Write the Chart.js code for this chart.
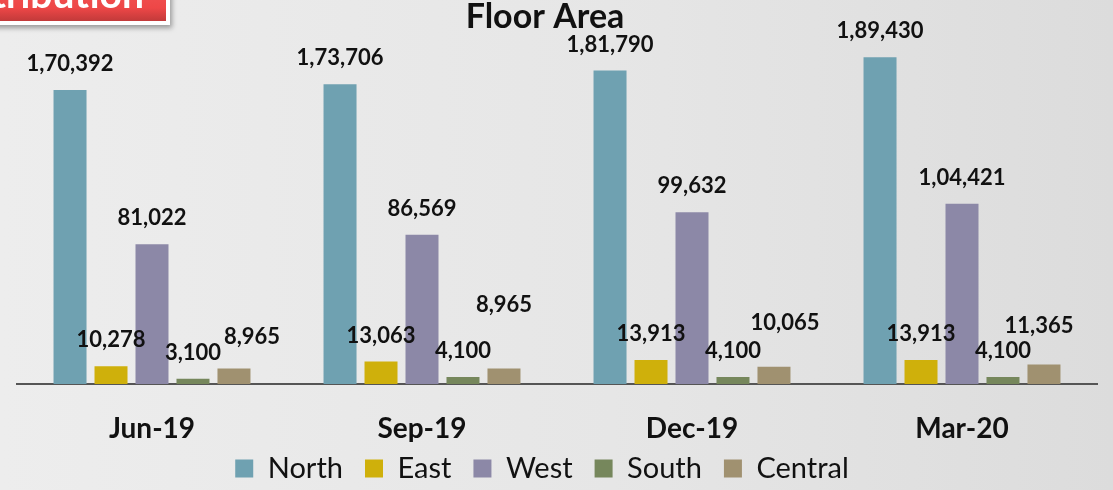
<!DOCTYPE html>
<html>
<head>
<meta charset="utf-8">
<title>Floor Area</title>
<script src="https://cdn.jsdelivr.net/npm/chart.js@4.4.1/dist/chart.umd.min.js"></script>
<style>
  html, body { margin: 0; padding: 0; }
  body {
    width: 1113px; height: 490px; overflow: hidden; position: relative;
    background: linear-gradient(90deg, #ededed 0%, #e6e6e6 55%, #dcdcdc 100%);
    font-family: Lato, "Noto Sans", sans-serif;
  }
  #wrap { position: absolute; left: 0; top: 0; width: 1113px; height: 490px; }
  #tag {
    position: absolute; left: -20px; top: -30px;
    width: 182px; height: 47px;
    background: linear-gradient(180deg, #f25a5a 0%, #ee4747 72%, #c23a3a 100%);
    border: 4px solid #ffffff;
    box-shadow: 2px 3px 5px rgba(0, 0, 0, 0.35);
    overflow: hidden;
  }
  #tag span {
    position: absolute; right: 22px; bottom: 8px;
    color: #ffffff; font: bold 39px/39px Lato, sans-serif; white-space: nowrap;
  }
</style>
</head>
<body>
<div id="wrap"><canvas id="chart" width="1113" height="490"></canvas></div>
<div id="tag"><span>Distribution</span></div>
<script>
// Quarterly floor area by zone
const categories = ['Jun-19', 'Sep-19', 'Dec-19', 'Mar-20'];
const north   = [170392, 173706, 181790, 189430];
const east    = [10278, 13063, 13913, 13913];
const west    = [81022, 86569, 99632, 104421];
const south   = [3100, 4100, 4100, 4100];
const central = [8965, 8965, 10065, 11365];

const zoneColors = {
  North: '#6fa1b1',
  East: '#cfb00b',
  West: '#8c88a7',
  South: '#76875c',
  Central: '#a09170'
};

// Indian digit grouping: 1,70,392
function formatIndian(n) {
  const s = String(Math.round(n));
  if (s.length <= 3) return s;
  const last3 = s.slice(-3);
  let rest = s.slice(0, -3);
  const parts = [];
  while (rest.length > 2) { parts.unshift(rest.slice(-2)); rest = rest.slice(0, -2); }
  if (rest.length) parts.unshift(rest);
  return parts.join(',') + ',' + last3;
}

// Chart heading, drawn slightly left of the plot centre
const heading = {
  id: 'heading',
  afterDraw(chart, args, opts) {
    const ctx = chart.ctx;
    ctx.save();
    ctx.font = `bold ${opts.size}px ${opts.family}`;
    ctx.fillStyle = opts.color;
    ctx.textAlign = 'center';
    ctx.textBaseline = 'middle';
    ctx.fillText(opts.text, opts.x, opts.y);
    ctx.restore();
  }
};

// Nudges the legend box after layout so it can sit closer to the axis labels
const legendShift = {
  id: 'legendShift',
  afterLayout(chart, args, opts) {
    const lg = chart.legend;
    if (!lg) return;
    lg.left += opts.dx; lg.right += opts.dx;
    lg.top += opts.dy; lg.bottom += opts.dy;
  }
};

// Draws each bar's value above it
const valueLabels = {
  id: 'valueLabels',
  afterDatasetsDraw(chart, args, opts) {
    const ctx = chart.ctx;
    ctx.save();
    ctx.font = `bold ${opts.size}px ${opts.family}`;
    ctx.fillStyle = opts.color;
    ctx.textAlign = 'center';
    ctx.textBaseline = 'middle';
    chart.data.datasets.forEach((ds, i) => {
      const meta = chart.getDatasetMeta(i);
      const nudge = opts.nudge[ds.label] || { dx: [], dy: [] };
      meta.data.forEach((bar, j) => {
        const x = bar.x + (nudge.dx[j] || 0);
        const y = bar.y - opts.offset + (nudge.dy[j] || 0);
        ctx.fillText(formatIndian(ds.data[j]), x, y);
      });
    });
    ctx.restore();
  }
};

const series = [
  ['North', north], ['East', east], ['West', west], ['South', south], ['Central', central]
];

new Chart(document.getElementById('chart'), {
  type: 'bar',
  data: {
    labels: categories,
    datasets: series.map(([name, values]) => ({
      label: name,
      data: values,
      backgroundColor: zoneColors[name],
      borderWidth: 0,
      categoryPercentage: 0.759,
      barPercentage: 0.805
    }))
  },
  options: {
    responsive: false,
    animation: false,
    layout: { padding: { left: 17, right: 16, top: 39, bottom: 0 } },
    scales: {
      x: {
        grid: { display: false, drawTicks: false },
        border: { display: true, color: '#555555', width: 2 },
        ticks: {
          color: '#111111',
          padding: 28,
          font: { family: 'Lato', size: 28, weight: 'bold' }
        },
        afterFit(scale) { scale.height = 58; }
      },
      y: {
        display: false,
        min: 0,
        max: 200000
      }
    },
    plugins: {
      title: { display: false },
      legend: {
        position: 'bottom',
        maxHeight: 48,
        labels: {
          color: '#111111',
          boxWidth: 18,
          boxHeight: 18,
          padding: 22,
          font: { family: 'Lato', size: 29 }
        }
      },
      legendShift: { dx: -15, dy: -10 },
      tooltip: { enabled: false },
      heading: {
        text: 'Floor Area',
        x: 545,
        y: 17,
        size: 34,
        family: 'Lato',
        color: '#111111'
      },
      valueLabels: {
        size: 22,
        family: 'Lato',
        color: '#111111',
        offset: 26,
        nudge: {
          Central: { dx: [18, 0, 11, -5], dy: [-6, -38, -18, -12] }
        }
      }
    }
  },
  plugins: [valueLabels, heading, legendShift]
});
</script>
</body>
</html>
